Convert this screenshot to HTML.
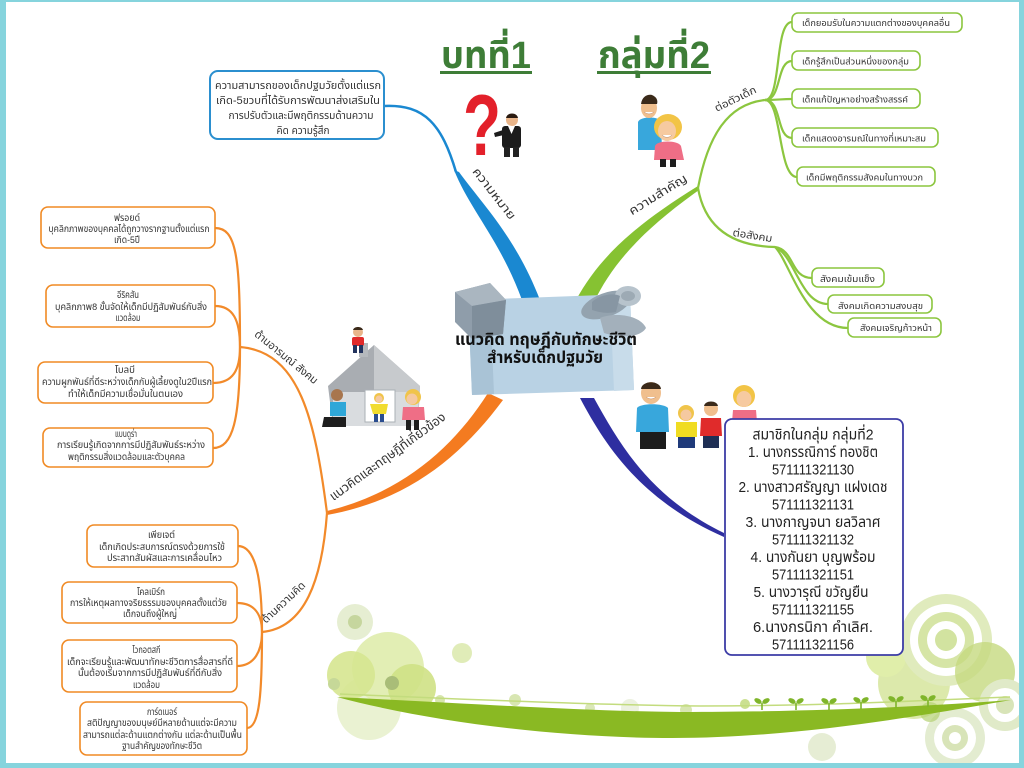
<!DOCTYPE html>
<html><head><meta charset="utf-8"><style>
html,body{margin:0;padding:0;background:#fff;}
svg{display:block;}
text{font-family:"Liberation Sans","Noto Sans Thai","Loma","Garuda","Tlwg Typo","Norasi",sans-serif;}
</style></head><body>
<svg width="1024" height="768" viewBox="0 0 1024 768" xmlns="http://www.w3.org/2000/svg">
<rect width="1024" height="768" fill="#fff"/>

<!-- bottom decoration -->
<g>
  <circle cx="369" cy="708" r="32" fill="#eaf2d2"/>
  <circle cx="388" cy="668" r="36" fill="#e2eeb4"/>
  <circle cx="351" cy="675" r="24" fill="#d6e690" opacity="0.9"/>
  <circle cx="412" cy="688" r="24" fill="#cfe185" opacity="0.9"/>
  <circle cx="355" cy="622" r="18" fill="#e6eed2"/>
  <circle cx="355" cy="622" r="7" fill="#c6d69e"/>
  <circle cx="462" cy="653" r="10" fill="#e0ecb8"/>
  <circle cx="392" cy="683" r="7" fill="#a9bd78"/>
  <circle cx="334" cy="684" r="6" fill="#c6d898"/>
  <circle cx="440" cy="700" r="5" fill="#d6e5ac"/>
  <circle cx="515" cy="700" r="6" fill="#d8e6b2"/>
  <circle cx="590" cy="708" r="5" fill="#dae7b8"/>
  <circle cx="630" cy="708" r="9" fill="#ecf1e0"/>
  <circle cx="686" cy="710" r="6" fill="#d8e6b2"/>
  <circle cx="745" cy="704" r="5" fill="#cbe090"/>

  <circle cx="914" cy="683" r="36" fill="#d8e7a2" opacity="0.9"/>
  <circle cx="886" cy="657" r="20" fill="#e0eeaa"/>
  <circle cx="946" cy="640" r="46" fill="#e0ebbd"/>
  <circle cx="946" cy="640" r="36" fill="#fff"/>
  <circle cx="946" cy="640" r="28" fill="#d6e5a6"/>
  <circle cx="946" cy="640" r="19" fill="#fff"/>
  <circle cx="946" cy="640" r="11" fill="#d2e3a0"/>
  <circle cx="985" cy="672" r="30" fill="#c5da80" opacity="0.8"/>
  <circle cx="1005" cy="705" r="26" fill="#e0eac8"/>
  <circle cx="1005" cy="705" r="17" fill="#fff"/>
  <circle cx="1005" cy="705" r="9" fill="#d8e4b8"/>
  <circle cx="955" cy="738" r="30" fill="#e3ecd0"/>
  <circle cx="955" cy="738" r="21" fill="#fff"/>
  <circle cx="955" cy="738" r="13" fill="#d8e4b8"/>
  <circle cx="955" cy="738" r="6" fill="#fff"/>
  <circle cx="822" cy="747" r="14" fill="#e6edd4"/>
  <circle cx="930" cy="712" r="10" fill="#b5d174" opacity="0.7"/>

  <path d="M337,697 C480,704 580,711 680,712 C820,712 930,706 1011,700 C930,714 800,738 672,738 C560,738 430,722 337,697 Z" fill="#8ab923"/>
  <path d="M340,694 C480,700 600,705 700,706 C830,706 930,700 1010,697" fill="none" stroke="#c3dc7e" stroke-width="1.5"/>
  <g fill="#7fb52a">
    <g transform="translate(762,705)"><rect x="-0.8" y="-2" width="1.6" height="7"/><ellipse cx="-4" cy="-4" rx="4" ry="2.4" transform="rotate(30 -4 -4)"/><ellipse cx="4" cy="-4" rx="4" ry="2.4" transform="rotate(-30 4 -4)"/></g>
    <g transform="translate(796,705)"><rect x="-0.8" y="-2" width="1.6" height="7"/><ellipse cx="-4" cy="-4" rx="4" ry="2.4" transform="rotate(30 -4 -4)"/><ellipse cx="4" cy="-4" rx="4" ry="2.4" transform="rotate(-30 4 -4)"/></g>
    <g transform="translate(829,705)"><rect x="-0.8" y="-2" width="1.6" height="7"/><ellipse cx="-4" cy="-4" rx="4" ry="2.4" transform="rotate(30 -4 -4)"/><ellipse cx="4" cy="-4" rx="4" ry="2.4" transform="rotate(-30 4 -4)"/></g>
    <g transform="translate(861,704)"><rect x="-0.8" y="-2" width="1.6" height="7"/><ellipse cx="-4" cy="-4" rx="4" ry="2.4" transform="rotate(30 -4 -4)"/><ellipse cx="4" cy="-4" rx="4" ry="2.4" transform="rotate(-30 4 -4)"/></g>
    <g transform="translate(896,703)"><rect x="-0.8" y="-2" width="1.6" height="7"/><ellipse cx="-4" cy="-4" rx="4" ry="2.4" transform="rotate(30 -4 -4)"/><ellipse cx="4" cy="-4" rx="4" ry="2.4" transform="rotate(-30 4 -4)"/></g>
    <g transform="translate(928,702)"><rect x="-0.8" y="-2" width="1.6" height="7"/><ellipse cx="-4" cy="-4" rx="4" ry="2.4" transform="rotate(30 -4 -4)"/><ellipse cx="4" cy="-4" rx="4" ry="2.4" transform="rotate(-30 4 -4)"/></g>
  </g>
</g>

<!-- frame -->
<rect x="0" y="0" width="1024" height="2" fill="#86d4dd"/>
<rect x="0" y="0" width="6" height="768" fill="#86d4dd"/>
<rect x="1019" y="0" width="5" height="768" fill="#86d4dd"/>
<rect x="0" y="763" width="1024" height="5" fill="#86d4dd"/>

<!-- titles -->
<text x="441" y="68" font-size="38" font-weight="bold" fill="#3e7d37" textLength="90" lengthAdjust="spacingAndGlyphs">บทที่1</text>
<rect x="440" y="71" width="92" height="3" fill="#3e7d37"/>
<text x="598" y="68" font-size="38" font-weight="bold" fill="#3e7d37" textLength="112" lengthAdjust="spacingAndGlyphs">กลุ่มที่2</text>
<rect x="597" y="71" width="114" height="3" fill="#3e7d37"/>

<!-- BLUE branch -->
<path d="M384,106 C425,104 442,125 456,172" fill="none" stroke="#1a88d1" stroke-width="2.5"/>
<path d="M454,170 C470,210 500,240 522,300 L540,300 C516,238 484,206 459,172 Z" fill="#1a88d1"/>
<rect x="210" y="71" width="174" height="68" rx="8" fill="#fff" stroke="#2b8fcf" stroke-width="2"/>
<g font-size="11" fill="#333" text-anchor="middle">
<text x="298" y="89" textLength="166" lengthAdjust="spacingAndGlyphs">ความสามารถของเด็กปฐมวัยตั้งแต่แรก</text>
<text x="298" y="104" textLength="164" lengthAdjust="spacingAndGlyphs">เกิด-5ขวบที่ได้รับการพัฒนาส่งเสริมใน</text>
<text x="301" y="119" textLength="145" lengthAdjust="spacingAndGlyphs">การปรับตัวและมีพฤติกรรมด้านความ</text>
<text x="303" y="134" textLength="53" lengthAdjust="spacingAndGlyphs">คิด ความรู้สึก</text>
</g>
<text transform="translate(491,196) rotate(52)" font-size="12" fill="#333" text-anchor="middle" textLength="62" lengthAdjust="spacingAndGlyphs">ความหมาย</text>

<!-- GREEN branch -->
<path d="M576,300 C598,260 630,228 698,186 L699,190 C640,232 612,265 594,302 Z" fill="#86c232"/>
<g fill="none" stroke="#8cc63f" stroke-width="2.2">
<path d="M698,188 C708,135 728,104 765,100"/>
<path d="M698,188 C705,228 732,246 775,247"/>
<path d="M765,100 C782,100 774,22 792,22"/>
<path d="M765,100 C782,100 776,61 792,61"/>
<path d="M765,100 C780,100 780,99 792,99"/>
<path d="M765,100 C782,100 776,138 792,138"/>
<path d="M765,100 C782,100 778,177 797,177"/>
<path d="M775,247 C795,250 790,278 812,278"/>
<path d="M775,247 C795,255 800,304 828,304"/>
<path d="M775,247 C790,262 805,328 848,328"/>
</g>
<text transform="translate(660,198) rotate(-32)" font-size="12" fill="#333" text-anchor="middle" textLength="66" lengthAdjust="spacingAndGlyphs">ความสำคัญ</text>
<text transform="translate(737,102) rotate(-26)" font-size="10.5" fill="#333" text-anchor="middle" textLength="45" lengthAdjust="spacingAndGlyphs">ต่อตัวเด็ก</text>
<text transform="translate(752,239) rotate(9)" font-size="10.5" fill="#333" text-anchor="middle" textLength="40" lengthAdjust="spacingAndGlyphs">ต่อสังคม</text>

<g fill="#fff" stroke="#8cc63f" stroke-width="1.6">
<rect x="792" y="13" width="170" height="19" rx="6"/>
<rect x="792" y="51" width="128" height="19" rx="6"/>
<rect x="792" y="89" width="128" height="19" rx="6"/>
<rect x="792" y="128" width="146" height="19" rx="6"/>
<rect x="797" y="167" width="138" height="19" rx="6"/>
<rect x="812" y="268" width="72" height="19" rx="6"/>
<rect x="828" y="295" width="104" height="18" rx="6"/>
<rect x="848" y="318" width="93" height="19" rx="6"/>
</g>
<g font-size="9" fill="#333" text-anchor="middle">
<text x="876" y="26" textLength="148" lengthAdjust="spacingAndGlyphs">เด็กยอมรับในความแตกต่างของบุคคลอื่น</text>
<text x="855.5" y="64.5" textLength="107" lengthAdjust="spacingAndGlyphs">เด็กรู้สึกเป็นส่วนหนึ่งของกลุ่ม</text>
<text x="855" y="102.5" textLength="106" lengthAdjust="spacingAndGlyphs">เด็กแก้ปัญหาอย่างสร้างสรรค์</text>
<text x="864" y="141.5" textLength="124" lengthAdjust="spacingAndGlyphs">เด็กแสดงอารมณ์ในทางที่เหมาะสม</text>
<text x="864.5" y="180.5" textLength="117" lengthAdjust="spacingAndGlyphs">เด็กมีพฤติกรรมสังคมในทางบวก</text>
<text x="847.5" y="282" textLength="55" lengthAdjust="spacingAndGlyphs">สังคมเข้มแข็ง</text>
<text x="880.5" y="309" textLength="85" lengthAdjust="spacingAndGlyphs">สังคมเกิดความสงบสุข</text>
<text x="896" y="331" textLength="72" lengthAdjust="spacingAndGlyphs">สังคมเจริญก้าวหน้า</text>
</g>

<!-- ORANGE branch -->
<path d="M488,393 C455,445 405,492 327,511 L327,515 C410,500 462,455 503,400 Z" fill="#f47b20"/>
<g fill="none" stroke="#f28a2a" stroke-width="2.2">
<path d="M327,513 C315,420 300,352 240,347"/>
<path d="M327,513 C322,580 305,628 262,632"/>
<path d="M215,228 C236,228 240,255 240,347"/>
<path d="M215,306 C233,306 240,320 240,347"/>
<path d="M213,383 C233,383 240,370 240,347"/>
<path d="M213,448 C233,448 240,420 240,347"/>
<path d="M238,546 C256,546 262,580 262,632"/>
<path d="M237,603 C255,603 262,615 262,632"/>
<path d="M237,666 C255,666 262,650 262,632"/>
<path d="M247,728 C260,728 262,690 262,632"/>
</g>
<text transform="translate(390,460) rotate(-36)" font-size="13" fill="#333" text-anchor="middle" textLength="140" lengthAdjust="spacingAndGlyphs">แนวคิดและทฤษฎีที่เกี่ยวข้อง</text>
<text transform="translate(284,360) rotate(39)" font-size="11" fill="#333" text-anchor="middle" textLength="78" lengthAdjust="spacingAndGlyphs">ด้านอารมณ์ สังคม</text>
<text transform="translate(286,605) rotate(-43)" font-size="11" fill="#333" text-anchor="middle" textLength="55" lengthAdjust="spacingAndGlyphs">ด้านความคิด</text>

<g fill="#fff" stroke="#f08a24" stroke-width="1.6">
<rect x="41" y="207" width="174" height="41" rx="7"/>
<rect x="46" y="285" width="169" height="42" rx="7"/>
<rect x="38" y="362" width="175" height="41" rx="7"/>
<rect x="43" y="428" width="170" height="39" rx="7"/>
<rect x="87" y="525" width="151" height="42" rx="7"/>
<rect x="62" y="582" width="175" height="41" rx="7"/>
<rect x="62" y="640" width="175" height="52" rx="7"/>
<rect x="80" y="702" width="167" height="53" rx="7"/>
</g>
<g font-size="9.5" fill="#333" text-anchor="middle">
<text x="127" y="221" textLength="26" lengthAdjust="spacingAndGlyphs">ฟรอยด์</text>
<text x="129" y="232" textLength="161" lengthAdjust="spacingAndGlyphs">บุคลิกภาพของบุคคลได้ถูกวางรากฐานตั้งแต่แรก</text>
<text x="127" y="243" textLength="26" lengthAdjust="spacingAndGlyphs">เกิด-5ปี</text>

<text x="128" y="298" textLength="22" lengthAdjust="spacingAndGlyphs">อีริคสัน</text>
<text x="131" y="310" textLength="152" lengthAdjust="spacingAndGlyphs">บุคลิกภาพ8 ขั้นจัดให้เด็กมีปฏิสัมพันธ์กับสิ่ง</text>
<text x="128" y="321" textLength="25" lengthAdjust="spacingAndGlyphs">แวดล้อม</text>

<text x="125" y="373" textLength="20" lengthAdjust="spacingAndGlyphs">โบลบี</text>
<text x="127" y="385" textLength="170" lengthAdjust="spacingAndGlyphs">ความผูกพันธ์ที่ดีระหว่างเด็กกับผู้เลี้ยงดูใน2ปีแรก</text>
<text x="125.5" y="397" textLength="115" lengthAdjust="spacingAndGlyphs">ทำให้เด็กมีความเชื่อมั่นในตนเอง</text>

<text x="126" y="437" textLength="22" lengthAdjust="spacingAndGlyphs">แบนดูร่า</text>
<text x="131" y="448" textLength="148" lengthAdjust="spacingAndGlyphs">การเรียนรู้เกิดจากการมีปฏิสัมพันธ์ระหว่าง</text>
<text x="126.5" y="460" textLength="117" lengthAdjust="spacingAndGlyphs">พฤติกรรมสิ่งแวดล้อมและตัวบุคคล</text>

<text x="161.5" y="538" textLength="27" lengthAdjust="spacingAndGlyphs">เพียเจต์</text>
<text x="162" y="550" textLength="126" lengthAdjust="spacingAndGlyphs">เด็กเกิดประสบการณ์ตรงด้วยการใช้</text>
<text x="164.5" y="561" textLength="115" lengthAdjust="spacingAndGlyphs">ประสาทสัมผัสและการเคลื่อนไหว</text>

<text x="151" y="595" textLength="28" lengthAdjust="spacingAndGlyphs">โคลเบิร์ก</text>
<text x="148.5" y="606" textLength="157" lengthAdjust="spacingAndGlyphs">การให้เหตุผลทางจริยธรรมของบุคคลตั้งแต่วัย</text>
<text x="150" y="617" textLength="54" lengthAdjust="spacingAndGlyphs">เด็กจนถึงผู้ใหญ่</text>

<text x="146.5" y="653" textLength="28" lengthAdjust="spacingAndGlyphs">ไวกอตสกี</text>
<text x="150" y="665" textLength="166" lengthAdjust="spacingAndGlyphs">เด็กจะเรียนรู้และพัฒนาทักษะชีวิตการสื่อสารที่ดี</text>
<text x="150" y="676" textLength="144" lengthAdjust="spacingAndGlyphs">นั้นต้องเริ่มจากการมีปฏิสัมพันธ์ที่ดีกับสิ่ง</text>
<text x="146.5" y="688" textLength="27" lengthAdjust="spacingAndGlyphs">แวดล้อม</text>

<text x="162" y="715" textLength="30" lengthAdjust="spacingAndGlyphs">การ์ดเนอร์</text>
<text x="162" y="726" textLength="150" lengthAdjust="spacingAndGlyphs">สติปัญญาของมนุษย์มีหลายด้านแต่จะมีความ</text>
<text x="162.5" y="738" textLength="159" lengthAdjust="spacingAndGlyphs">สามารถแต่ละด้านแตกต่างกัน แต่ละด้านเป็นพื้น</text>
<text x="162" y="749" textLength="80" lengthAdjust="spacingAndGlyphs">ฐานสำคัญของทักษะชีวิต</text>
</g>

<!-- DARK BLUE branch -->
<path d="M580,398 C605,445 640,500 724,537 L724,533 C650,497 620,445 594,398 Z" fill="#2e2ea0"/>

<!-- CENTER image -->
<g>
  <polygon points="468,300 630,294 634,390 472,395" fill="#b9d2e4"/>
  <polygon points="468,300 490,299 494,394 472,395" fill="#a9c3d6"/>
  <polygon points="610,295 630,294 634,390 614,391" fill="#c8dcea"/>
  <path d="M455,292 L490,283 L506,300 L503,334 L472,339 L455,322 Z" fill="#8f9daa"/>
  <path d="M455,292 L490,283 L506,300 L472,306 Z" fill="#aab6c0"/>
  <path d="M472,306 L506,300 L503,334 L472,339 Z" fill="#7f8e9b"/>
  <ellipse cx="606" cy="305" rx="26" ry="12" fill="#94a3af" transform="rotate(-20 606 305)"/>
  <ellipse cx="628" cy="296" rx="13" ry="10" fill="#b7c3cc"/>
  <ellipse cx="628" cy="296" rx="7" ry="5" fill="#9daab4"/>
  <path d="M600,318 C615,312 640,315 646,328 C640,338 620,338 604,333 Z" fill="#a3b0bb"/>
  <path d="M592,302 C598,296 612,292 620,296 L616,312 C606,314 598,312 592,310 Z" fill="#8796a3"/>
</g>
<g font-size="17" font-weight="bold" fill="#111" text-anchor="middle">
<text x="546" y="345" textLength="182" lengthAdjust="spacingAndGlyphs">แนวคิด ทฤษฎีกับทักษะชีวิต</text>
<text x="545" y="363" textLength="116" lengthAdjust="spacingAndGlyphs">สำหรับเด็กปฐมวัย</text>
</g>

<!-- question mark + man -->
<text x="482" y="155" font-size="86" font-weight="bold" fill="#e3202a" text-anchor="middle" textLength="38" lengthAdjust="spacingAndGlyphs">?</text>
<g>
  <rect x="502" y="126" width="19" height="22" rx="3" fill="#1c1c1c"/>
  <polygon points="508,126 515,126 511.5,134" fill="#fff"/>
  <rect x="504" y="147" width="6" height="10" fill="#222"/>
  <rect x="513" y="147" width="6" height="10" fill="#222"/>
  <path d="M503,130 L494,133 L495,137 L504,135 Z" fill="#1c1c1c"/>
  <circle cx="512" cy="120" r="6" fill="#e9b58a"/>
  <path d="M506,118 C507,112 517,112 518,118 Z" fill="#2a1a10"/>
</g>

<!-- couple -->
<g>
  <path d="M638,122 C640,116 660,116 661,122 L662,150 L638,150 Z" fill="#38a7dc"/>
  <ellipse cx="649" cy="108" rx="8" ry="10" fill="#f0bf8e"/>
  <path d="M641,104 C642,96 648,94 652,95 C657,97 658,101 657,104 Z" fill="#3b2a1a"/>
  <path d="M644,112 Q649,116 654,112" fill="#fff" stroke="#b86" stroke-width="0.5"/>
  <ellipse cx="668" cy="127" rx="14" ry="13" fill="#f2c446"/>
  <ellipse cx="667" cy="131" rx="9" ry="10" fill="#f6caa0"/>
  <path d="M662,135 Q667,140 672,135" fill="#fff" stroke="#b86" stroke-width="0.5"/>
  <path d="M655,146 C657,140 678,140 681,146 L684,160 L654,160 Z" fill="#ef6e86"/>
  <rect x="660" y="159" width="6" height="8" fill="#1e1e1e"/>
  <rect x="670" y="159" width="6" height="8" fill="#1e1e1e"/>
</g>

<!-- house -->
<g>
  <polygon points="328,386 374,345 420,386 418,426 333,426" fill="#a9adb2"/>
  <polygon points="374,345 420,386 418,426 374,426" fill="#c7cacd"/>
  <polygon points="333,392 418,392 418,426 333,426" fill="#d9dcdf"/>
  <rect x="359" y="343" width="9" height="14" fill="#b5b9bd"/>
  <rect x="365" y="390" width="30" height="32" fill="#fff" stroke="#aab0b5" stroke-width="1"/>
  <circle cx="379" cy="398" r="5" fill="#f0c44a"/>
  <circle cx="379" cy="399" r="3.5" fill="#f5c9a0"/>
  <path d="M370,404 L388,404 L386,414 L373,414 Z" fill="#f1dc2e"/>
  <rect x="374" y="414" width="4" height="8" fill="#2a4d8f"/>
  <rect x="380" y="414" width="4" height="8" fill="#2a4d8f"/>
  <circle cx="358" cy="332" r="5" fill="#e9b58a"/>
  <path d="M353,330 C354,326 362,326 363,330 Z" fill="#3b2a1a"/>
  <rect x="352" y="337" width="12" height="9" rx="2" fill="#e12a2a"/>
  <rect x="353" y="345" width="4" height="8" fill="#23345e"/>
  <rect x="359" y="345" width="4" height="8" fill="#23345e"/>
  <circle cx="337" cy="395" r="6" fill="#a8764e"/>
  <path d="M330,402 L346,402 L346,416 L330,416 Z" fill="#2fa7d8"/>
  <path d="M324,417 L346,417 L346,427 L322,427 Z" fill="#1e1e1e"/>
  <circle cx="413" cy="397" r="8" fill="#f0c44a"/>
  <circle cx="412" cy="399" r="5.5" fill="#f5c9a0"/>
  <path d="M403,407 L424,407 L425,420 L402,420 Z" fill="#ef6e86"/>
  <rect x="406" y="420" width="5" height="10" fill="#1e1e1e"/>
  <rect x="414" y="420" width="5" height="10" fill="#1e1e1e"/>
</g>

<!-- family -->
<g>
  <circle cx="744" cy="396" r="11" fill="#f2c446"/>
  <ellipse cx="744" cy="399" rx="7.5" ry="8" fill="#f6caa0"/>
  <path d="M733,410 L756,410 L757,422 L732,422 Z" fill="#ef6e86"/>
  <path d="M637,408 C640,403 664,403 668,408 L669,432 L636,432 Z" fill="#38a7dc"/>
  <rect x="640" y="432" width="26" height="17" fill="#1c1c1c"/>
  <ellipse cx="651" cy="393" rx="10" ry="11" fill="#f0bf8e"/>
  <path d="M641,389 C642,380 660,380 661,389 Z" fill="#3b2a1a"/>
  <path d="M646,397 Q651,401 656,397" fill="#fff" stroke="#b86" stroke-width="0.5"/>
  <circle cx="686" cy="413" r="8" fill="#f0c44a"/>
  <circle cx="686" cy="415" r="5.5" fill="#f5c9a0"/>
  <path d="M676,422 L697,422 L697,437 L676,437 Z" fill="#f0dc22"/>
  <rect x="678" y="437" width="17" height="11" fill="#1f3a7a"/>
  <circle cx="711" cy="409" r="7" fill="#f0bf8e"/>
  <path d="M704,406 C705,400 717,400 718,406 Z" fill="#3b2a1a"/>
  <path d="M701,418 L721,418 L722,436 L700,436 Z" fill="#e02b2b"/>
  <rect x="703" y="436" width="16" height="12" fill="#1f2f55"/>
</g>

<!-- members box -->
<rect x="725" y="419" width="178" height="236" rx="7" fill="#fff" stroke="#3c3ca6" stroke-width="1.8"/>
<g font-size="15" fill="#222" text-anchor="middle">
<text x="813" y="439.5" textLength="121" lengthAdjust="spacingAndGlyphs">สมาชิกในกลุ่ม กลุ่มที่2</text>
<text x="813" y="457" textLength="130" lengthAdjust="spacingAndGlyphs">1. นางกรรณิการ์ ทองชิต</text>
<text x="813" y="474.5" textLength="82" lengthAdjust="spacingAndGlyphs">571111321130</text>
<text x="813" y="492" textLength="149" lengthAdjust="spacingAndGlyphs">2. นางสาวศรัญญา แฝงเดช</text>
<text x="813" y="509.5" textLength="82" lengthAdjust="spacingAndGlyphs">571111321131</text>
<text x="813" y="527" textLength="135" lengthAdjust="spacingAndGlyphs">3. นางกาญจนา ยลวิลาศ</text>
<text x="813" y="544.5" textLength="82" lengthAdjust="spacingAndGlyphs">571111321132</text>
<text x="813" y="562" textLength="125" lengthAdjust="spacingAndGlyphs">4. นางกันยา บุญพร้อม</text>
<text x="813" y="579.5" textLength="82" lengthAdjust="spacingAndGlyphs">571111321151</text>
<text x="811" y="597" textLength="115" lengthAdjust="spacingAndGlyphs">5. นางวารุณี ขวัญยืน</text>
<text x="813" y="614.5" textLength="82" lengthAdjust="spacingAndGlyphs">571111321155</text>
<text x="813" y="632" textLength="120" lengthAdjust="spacingAndGlyphs">6.นางกรนิกา คำเลิศ.</text>
<text x="813" y="649.5" textLength="82" lengthAdjust="spacingAndGlyphs">571111321156</text>
</g>
</svg>
</body></html>
